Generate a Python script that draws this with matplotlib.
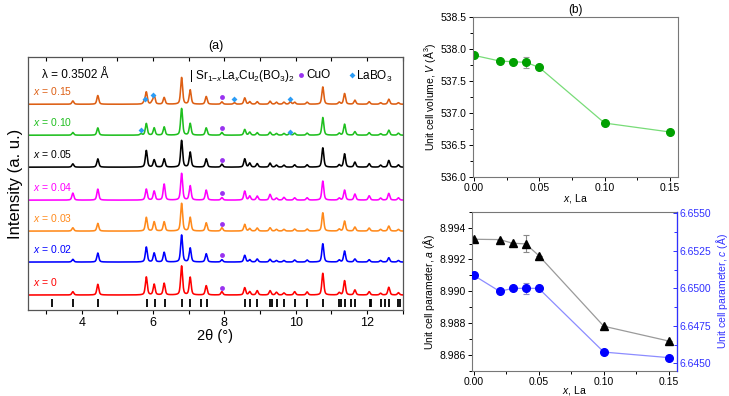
import numpy as np
import matplotlib
matplotlib.use("Agg")
import matplotlib.pyplot as plt
from matplotlib.ticker import MultipleLocator, FixedLocator

plt.rcParams['font.family'] = ['Liberation Sans', 'DejaVu Sans']
plt.rcParams['mathtext.fontset'] = 'custom'
plt.rcParams['mathtext.rm'] = 'Liberation Sans'
plt.rcParams['mathtext.it'] = 'Liberation Sans:italic'
plt.rcParams['mathtext.bf'] = 'Liberation Sans:bold'

# ---------------- data: XRD patterns ----------------
samples = ["0", "0.02", "0.03", "0.04", "0.05", "0.10", "0.15"]
peak_pos = [3.75, 4.45, 5.81, 6.03, 6.31, 6.80, 7.04, 7.49, 7.93, 8.57, 8.71, 8.92,
            9.28, 9.46, 9.67, 9.97, 10.32, 10.76, 11.22, 11.37, 11.66, 12.06, 12.38,
            12.61, 12.88]
heights_x000 = [3.3, 10.7, 18, 10.7, 11.7, 29, 17.7, 9.3, 3.3, 7.3, 3.3, 4.3, 4.3, 2.7, 2, 3.3, 3, 21.7, 2.3, 14.3, 5, 3.3, 1.7, 7.7, 2.3]
heights_x002 = [2.7, 9, 15, 9, 9.7, 27, 14, 8.3, 2.3, 6.7, 2.3, 3, 2.7, 1.5, 1.5, 2, 2, 18.3, 2, 11, 3, 2.3, 1.5, 4.3, 1.5]
heights_x003 = [3.3, 7.7, 13.7, 9.3, 9.3, 27.7, 13.7, 8.3, 3.3, 6.7, 2.5, 3, 3.3, 1.7, 1.7, 2, 2, 18.3, 2, 10, 4, 3, 1.7, 5, 1.7]
heights_x004 = [7, 11, 11, 9, 16, 26.7, 14.3, 10, 2.5, 9, 4, 4, 5.7, 2, 2.7, 2.3, 2.3, 19, 2, 10, 6, 4.3, 2, 6.7, 2.3]
heights_x005 = [3.3, 8.3, 16.7, 7.3, 8.3, 26.7, 15, 8.3, 3, 8.3, 4, 3.5, 4, 2, 2, 2.3, 2.3, 19.3, 2.3, 13.3, 5, 3.5, 2, 6.7, 2.3]
heights_x010 = [2.7, 7.3, 11.7, 7.3, 8.3, 26.7, 11.7, 7.3, 2.7, 5.7, 3, 2.5, 3, 1.7, 1.7, 2, 2, 17.7, 2, 11, 3.5, 2.5, 1.5, 5, 2]
heights_x015 = [3.3, 8.7, 12, 8.7, 6.7, 26.7, 14.3, 7.7, 2.3, 6.3, 2.5, 2.5, 3, 2, 2, 2, 2, 17.3, 2, 10.7, 4, 2.5, 1.5, 5, 1.5]
all_heights = [heights_x000, heights_x002, heights_x003, heights_x004,
               heights_x005, heights_x010, heights_x015]
# LaBO3 impurity reflections (position, height) for x = 0.10 and 0.15
labo3_pos_x010 = [5.66, 9.83]
labo3_h_x010 = [1.5, 2.0]
labo3_pos_x015 = [5.75, 5.97, 8.28, 9.85]
labo3_h_x015 = [2.0, 2.0, 1.5, 2.5]
# impurity marker positions
cuo_marker_x = 7.93
labo3_marker_x010 = [5.66, 9.83]
labo3_marker_x015 = [5.76, 5.99, 8.28, 9.85]
# Bragg positions of Sr1-xLaxCu2(BO3)2
bragg_pos = [3.17, 3.76, 4.46, 5.82, 6.04, 6.32, 6.81, 7.04, 7.33, 7.50, 8.58, 8.71,
             8.92, 9.29, 9.33, 9.47, 9.68, 9.98, 10.32, 10.77, 11.22, 11.27, 11.38,
             11.55, 11.67, 12.08, 12.12, 12.40, 12.50, 12.62, 12.87, 12.92]

# ---------------- data: lattice parameters ----------------
x_la = [0.00, 0.02, 0.03, 0.04, 0.05, 0.10, 0.15]
volume = [537.90, 537.81, 537.80, 537.79, 537.71, 536.84, 536.70]
volume_err = [0, 0, 0, 0.09, 0, 0, 0]
a_par = [8.99327, 8.99325, 8.99302, 8.99298, 8.99225, 8.98781, 8.98688]
a_err = [0, 0, 0, 0.00053, 0, 0, 0]
c_par = [6.65087, 6.64980, 6.65000, 6.65000, 6.65000, 6.64576, 6.64539]
c_err = [0, 0, 0, 0.00035, 0, 0, 0]

# ---------------- style ----------------
colors = ['#ff0000', '#0000ff', '#ff8a1c', '#ff00ff', '#000000', '#1fbf1f', '#dd5f14']
offsets = [15, 48, 79, 110, 143, 175, 206]
cuo_col = '#9932f0'
labo3_col = '#2b9cf5'

def profile(tt, pos, h, fwhm=0.065, eta=0.5):
    y = np.zeros_like(tt)
    for p, a in zip(pos, h):
        d = (tt - p) / (fwhm / 2)
        lor = 1 / (1 + d ** 2)
        gau = np.exp(-np.log(2) * d ** 2)
        y += a * (eta * lor + (1 - eta) * gau)
    return y

fig = plt.figure(figsize=(7.29, 3.96), dpi=100)

# ---------------- panel (a) ----------------
axA = fig.add_axes([0.0388, 0.2172, 0.5136, 0.6381])
tt = np.linspace(2.5, 13.0, 4000)
for i, (lab, h) in enumerate(zip(samples, all_heights)):
    y = profile(tt, peak_pos, h)
    if lab == "0.10":
        y += profile(tt, labo3_pos_x010, labo3_h_x010)
    if lab == "0.15":
        y += profile(tt, labo3_pos_x015, labo3_h_x015)
    axA.plot(tt, y + offsets[i], color=colors[i], lw=1.15)
    axA.text(2.62, offsets[i] + 13, r"$\mathit{x}$ = " + lab, color=colors[i],
             fontsize=7.5, va='center', ha='left')
    axA.plot([cuo_marker_x], [offsets[i] + 7], 'o', color=cuo_col, ms=3.5, mec='none')

lab_dy010 = [5, 3.5]
for xm, dy in zip(labo3_marker_x010, lab_dy010):
    axA.plot([xm], [offsets[5] + dy], 'D', color=labo3_col, ms=3, mec='none')
lab_dy015 = [5, 9, 5.3, 5.3]
for xm, dy in zip(labo3_marker_x015, lab_dy015):
    axA.plot([xm], [offsets[6] + dy], 'D', color=labo3_col, ms=3, mec='none')

axA.vlines(bragg_pos, 3, 11.5, color='black', lw=1.3)

axA.text(2.88, 235, "λ = 0.3502 Å", fontsize=8.5, va='center', ha='left')
axA.text(7.0, 234, r"| Sr$_{1\mathit{-x}}$La$_{\mathit{x}}$Cu$_2$(BO$_3$)$_2$",
         fontsize=8.5, va='center', ha='left')
axA.plot([10.16], [235], 'o', color=cuo_col, ms=3.5, mec='none')
axA.text(10.3, 235, "CuO", fontsize=8.5, va='center', ha='left')
axA.plot([11.58], [235], 'D', color=labo3_col, ms=3, mec='none')
axA.text(11.7, 234, r"LaBO$_3$", fontsize=8.5, va='center', ha='left')

axA.set_xlim(2.5, 13.0)
axA.set_ylim(0, 253)
axA.set_yticks([])
axA.xaxis.set_major_locator(MultipleLocator(2))
axA.xaxis.set_minor_locator(MultipleLocator(1))
axA.tick_params(axis='x', which='both', direction='out', length=3, width=0.8,
                labelsize=9, pad=2)
axA.set_xlabel("2θ (°)", fontsize=10.5, labelpad=0)
axA.set_ylabel("Intensity (a. u.)", fontsize=12, labelpad=4)
axA.set_title("(a)", fontsize=9, pad=6)
for s in axA.spines.values():
    s.set_color('#555555')
    s.set_linewidth(0.9)
axT = axA.secondary_xaxis('top')
axT.xaxis.set_major_locator(MultipleLocator(1))
axT.tick_params(axis='x', direction='in', length=3, width=0.8, labeltop=False)
axT.spines['top'].set_visible(False)

# ---------------- panel (b) top ----------------
axV = fig.add_axes([0.6484, 0.5538, 0.2812, 0.4032])
axV.plot(x_la, volume, '-', color='#78dc78', lw=0.9, zorder=1)
axV.errorbar(x_la, volume, yerr=volume_err, fmt='o', color='#00a000', ms=5.5,
             ecolor='#999999', elinewidth=0.8, capsize=2, capthick=0.8, zorder=2)
axV.set_xlim(-0.001, 0.156)
axV.set_ylim(536.0, 538.5)
axV.xaxis.set_major_locator(FixedLocator([0.0, 0.05, 0.10, 0.15]))
axV.xaxis.set_minor_locator(MultipleLocator(0.025))
axV.yaxis.set_major_locator(MultipleLocator(0.5))
axV.yaxis.set_minor_locator(MultipleLocator(0.25))
axV.xaxis.set_major_formatter(plt.FormatStrFormatter('%.2f'))
axV.yaxis.set_major_formatter(plt.FormatStrFormatter('%.1f'))
axV.tick_params(which='both', direction='out', length=3, width=0.7, labelsize=7.5, pad=1.5)
axV.tick_params(which='minor', length=2)
axV.set_xlabel(r"$\mathit{x}$, La", fontsize=7.5, labelpad=-1)
axV.set_ylabel(r"Unit cell volume, $\mathit{V}$ (Å$^3$)", fontsize=7.5, labelpad=2)
axV.set_title("(b)", fontsize=8.5, pad=3)
for s in axV.spines.values():
    s.set_color('#777777')
    s.set_linewidth(0.8)

# ---------------- panel (b) bottom ----------------
axa = fig.add_axes([0.6479, 0.0631, 0.2804, 0.4023])
axa.plot(x_la, a_par, '-', color='#9a9a9a', lw=0.9, zorder=1)
axa.errorbar(x_la, a_par, yerr=a_err, fmt='^', color='black', ms=5.5,
             ecolor='#888888', elinewidth=0.8, capsize=2, capthick=0.8, zorder=2)
axa.set_xlim(-0.001, 0.156)
axa.set_ylim(8.985, 8.995)
axa.xaxis.set_major_locator(FixedLocator([0.0, 0.05, 0.10, 0.15]))
axa.xaxis.set_minor_locator(MultipleLocator(0.025))
axa.yaxis.set_major_locator(MultipleLocator(0.002))
axa.yaxis.set_minor_locator(MultipleLocator(0.001))
axa.xaxis.set_major_formatter(plt.FormatStrFormatter('%.2f'))
axa.yaxis.set_major_formatter(plt.FormatStrFormatter('%.3f'))
axa.tick_params(which='both', direction='out', length=3, width=0.7, labelsize=7.5, pad=1.5)
axa.tick_params(which='minor', length=2)
axa.set_xlabel(r"$\mathit{x}$, La", fontsize=7.5, labelpad=-2)
axa.set_ylabel(r"Unit cell parameter, $\mathit{a}$ (Å)", fontsize=7.5, labelpad=2)
for s in axa.spines.values():
    s.set_color('#777777')
    s.set_linewidth(0.8)

axc = axa.twinx()
blue = '#3030ff'
axc.plot(x_la, c_par, '-', color='#8c8cff', lw=0.9, zorder=1)
axc.errorbar(x_la, c_par, yerr=c_err, fmt='o', color='#0000ff', ms=5.5,
             ecolor='#8888cc', elinewidth=0.8, capsize=2, capthick=0.8, zorder=2)
axc.set_ylim(6.6445, 6.6551)
axc.yaxis.set_major_locator(MultipleLocator(0.0025))
axc.yaxis.set_minor_locator(MultipleLocator(0.00125))
axc.yaxis.set_major_formatter(plt.FormatStrFormatter('%.4f'))
axc.tick_params(axis='y', which='both', direction='in', length=3, width=0.7,
                labelsize=7.5, pad=2, colors=blue)
axc.tick_params(axis='y', which='minor', length=2)
axc.spines['right'].set_color(blue)
axc.spines['right'].set_linewidth(0.9)
for k in ['left', 'top', 'bottom']:
    axc.spines[k].set_visible(False)
axc.set_ylabel(r"Unit cell parameter, $\mathit{c}$ (Å)", fontsize=7.5, color=blue, labelpad=2)

fig.savefig("out.png", dpi=100)
